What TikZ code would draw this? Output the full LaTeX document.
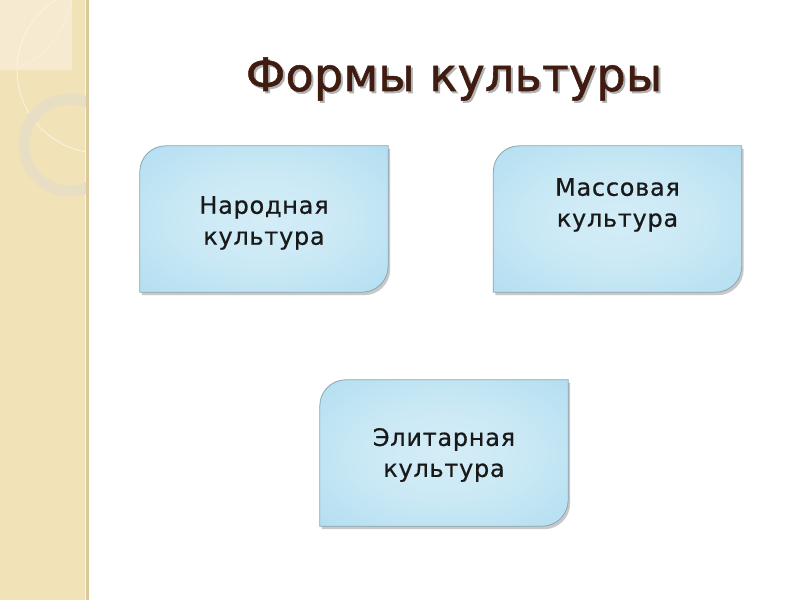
\documentclass[tikz,border=0pt]{standalone}
\usepackage{fontspec}
\setmainfont{DejaVu Sans}
\newfontfamily\boxfont[LetterSpace=3,FakeBold=0.6]{DejaVu Sans}
\newfontfamily\titlefont[LetterSpace=0.5,FakeBold=1.2]{DejaVu Sans}
\usetikzlibrary{shadows,calc}
\definecolor{strip}{HTML}{F2E2B8}
\definecolor{stripedge}{HTML}{D9C99C}
\definecolor{striplight}{HTML}{F6EBD0}
\definecolor{ringcol}{HTML}{E8DEC4}
\definecolor{boxin}{HTML}{D4EDF7}
\definecolor{boxout}{HTML}{A4D8EE}
\definecolor{boxline}{HTML}{8AA6B2}
\definecolor{titlecol}{HTML}{3F1B10}
\pgfdeclareradialshading{boxshade}{\pgfpoint{0bp}{0bp}}{%
  color(0bp)=(boxin); color(16bp)=(boxin!80!boxout); color(32bp)=(boxin!40!boxout);
  color(48bp)=(boxout); color(75bp)=(boxout)}
\tikzset{
  boxnode/.style={minimum width=248pt, minimum height=146pt, inner sep=0pt, draw=none},
  boxtext/.style={font=\boxfont\fontsize{24}{31}\selectfont, align=center, text=black!90},
  boxshape/.style={draw=boxline, line width=0.8pt, shading=boxshade,
     drop shadow={shadow xshift=2pt, shadow yshift=-3pt, opacity=0.3, fill=black!70}},
}
\newcommand{\cutbox}[1]{%
  \path[boxshape] (#1.south west) -- ($(#1.north west)+(0,-26pt)$)
    arc[start angle=180, end angle=90, radius=26pt] -- (#1.north east)
    -- ($(#1.south east)+(0,26pt)$) arc[start angle=0, end angle=-90, radius=26pt] -- cycle;}
\begin{document}
\begin{tikzpicture}[x=1pt,y=1pt]
\useasboundingbox (0,0) rectangle (800,600);
\fill[white] (0,0) rectangle (800,600);
% left strip
\fill[strip] (0,0) rectangle (86,600);
\fill[stripedge] (86,0) rectangle (89,600);
\draw[white!60!strip, line width=0.6pt] (85.3,0) -- (85.3,600);
\begin{scope}
  \clip (0,0) rectangle (86,600);
  \fill[striplight] (0,600) rectangle (72,530);
  \fill[striplight] (17,530) arc[start angle=180, end angle=110, radius=83] -- (72,530) -- cycle;
  \draw[white!70!strip, line width=0.7pt] (100,530) ++(180:83) arc[start angle=180, end angle=70, radius=83];
  \draw[white!70!strip, line width=0.7pt] (100,530) ++(180:83) arc[start angle=180, end angle=280, radius=83];
  \draw[ringcol, line width=11pt] (70,455) circle[radius=46];
  \draw[white!60!strip, line width=0.5pt] (17,532) .. controls (45,540) and (65,570) .. (72,600);
\end{scope}
% title
\node[font=\titlefont\fontsize{46}{50}\selectfont, text=black!30] at (456,519) {Формы культуры};
\node[font=\titlefont\fontsize{46}{50}\selectfont, text=titlecol] (title) at (454,521) {Формы культуры};
% boxes
\node[boxnode] (b1) at (264,381) {};
\node[boxnode] (b2) at (617.5,381) {};
\node[boxnode] (b3) at (444,147) {};
\cutbox{b1}
\cutbox{b2}
\cutbox{b3}
\node[boxtext] (t1) at (264,377) {Народная\\культура};
\node[boxtext] (t2) at (617.5,395) {Массовая\\культура};
\node[boxtext] (t3) at (444,145) {Элитарная\\культура};
\end{tikzpicture}
\end{document}
